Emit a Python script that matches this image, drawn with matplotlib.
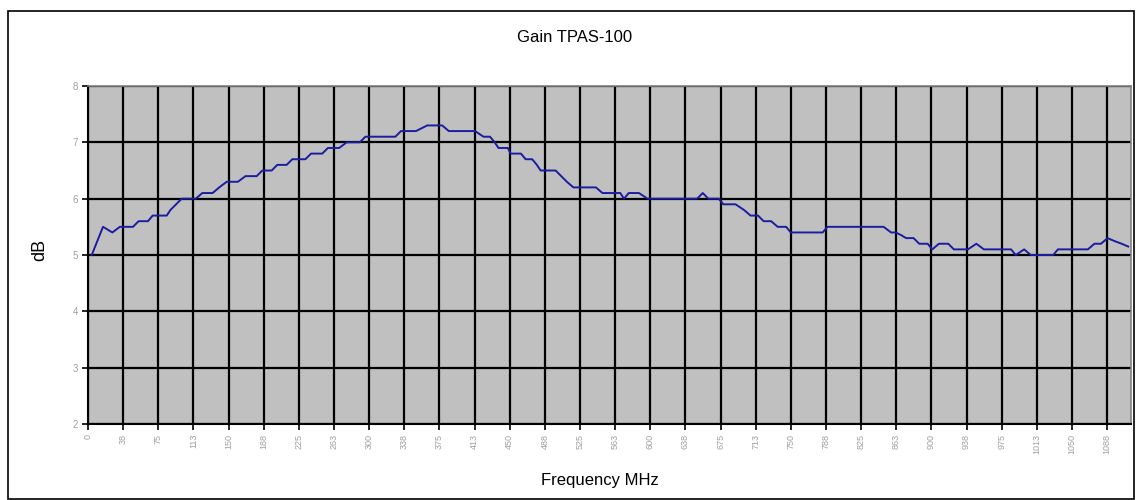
import numpy as np
import matplotlib.pyplot as plt

# gain curve (MHz, dB)
freq_mhz = [4, 16, 26, 34, 48, 54, 64, 69, 84, 88, 94, 100,
            115, 122, 133, 140, 148, 160, 168, 180, 186, 196, 202, 212,
            218, 232, 238, 250, 256, 268, 276, 290, 296, 328, 334, 350,
            362, 378, 385, 413, 422, 429, 434, 438, 448, 451, 462, 467,
            474, 479, 483, 499, 505, 511, 518, 542, 549, 568, 572, 577,
            588, 597, 650, 656, 662, 673, 678, 691, 700, 707, 715, 721,
            729, 736, 745, 750, 784, 789, 849, 857, 862, 868, 873, 881,
            887, 896, 901, 908, 918, 924, 939, 948, 956, 985, 990, 999,
            1006, 1030, 1035, 1067, 1074, 1081, 1088, 1095, 1103, 1110]
gain_db = [5.0, 5.5, 5.4, 5.5, 5.5, 5.6, 5.6, 5.7, 5.7, 5.8, 5.9, 6.0,
           6.0, 6.1, 6.1, 6.2, 6.3, 6.3, 6.4, 6.4, 6.5, 6.5, 6.6, 6.6,
           6.7, 6.7, 6.8, 6.8, 6.9, 6.9, 7.0, 7.0, 7.1, 7.1, 7.2, 7.2,
           7.3, 7.3, 7.2, 7.2, 7.1, 7.1, 7.0, 6.9, 6.9, 6.8, 6.8, 6.7,
           6.7, 6.6, 6.5, 6.5, 6.4, 6.3, 6.2, 6.2, 6.1, 6.1, 6.0, 6.1,
           6.1, 6.0, 6.0, 6.1, 6.0, 6.0, 5.9, 5.9, 5.8, 5.7, 5.7, 5.6,
           5.6, 5.5, 5.5, 5.4, 5.4, 5.5, 5.5, 5.4, 5.4, 5.35, 5.3, 5.3,
           5.2, 5.2, 5.1, 5.2, 5.2, 5.1, 5.1, 5.2, 5.1, 5.1, 5.0, 5.1,
           5.0, 5.0, 5.1, 5.1, 5.2, 5.2, 5.3, 5.25, 5.2, 5.15]

x_tick_labels = ["0", "38", "75", "113", "150", "188", "225", "263", "300",
                 "338", "375", "413", "450", "488", "525", "563", "600",
                 "638", "675", "713", "750", "788", "825", "863", "900",
                 "938", "975", "1013", "1050", "1088"]
y_ticks = [2, 3, 4, 5, 6, 7, 8]

plt.rcParams['font.family'] = ['Liberation Sans', 'DejaVu Sans']

fig = plt.figure(figsize=(11.36, 5.0), dpi=100)
ax = fig.add_axes([88 / 1136, 1 - 424 / 500, (1131 - 88) / 1136, (424 - 86) / 500])

# chart area border
fig.patches.append(plt.Rectangle((8 / 1136, 0.002), 1 - 8 / 1136 - 0.002, 1 - 11 / 500 - 0.002,
                                 transform=fig.transFigure, fill=False,
                                 edgecolor='black', linewidth=1.2))

ax.set_facecolor('#c0c0c0')
x_ticks = np.arange(len(x_tick_labels)) * 37.5
ax.set_xlim(0, 1113)
ax.set_ylim(2, 8)
ax.set_xticks(x_ticks)
ax.set_xticklabels(x_tick_labels, rotation=90, fontsize=6.5, color='#a0a0a0')
ax.set_yticks(y_ticks)
ax.set_yticklabels([str(v) for v in y_ticks], fontsize=7, color='#a0a0a0')
ax.tick_params(axis='both', direction='out', length=4, width=1.2, color='black', pad=3)

ax.grid(True, color='black', linewidth=1.6)
ax.set_axisbelow(True)

ax.plot(freq_mhz, gain_db, color='#1c1ca0', linewidth=1.4, zorder=3)

ax.spines['left'].set_color('black')
ax.spines['bottom'].set_color('black')
ax.spines['left'].set_linewidth(1.5)
ax.spines['bottom'].set_linewidth(1.5)
ax.spines['top'].set_color('#808080')
ax.spines['right'].set_color('#808080')
ax.spines['top'].set_linewidth(1.2)
ax.spines['right'].set_linewidth(1.2)

fig.text(575 / 1136, 1 - 37 / 500, "Gain TPAS-100", ha='center', va='center', fontsize=12)
fig.text(40 / 1136, 1 - 250 / 500, "dB", ha='center', va='center', rotation=90, fontsize=13)
fig.text(600 / 1136, 1 - 480 / 500, "Frequency MHz", ha='center', va='center', fontsize=12)

fig.savefig("out.png", dpi=100)
